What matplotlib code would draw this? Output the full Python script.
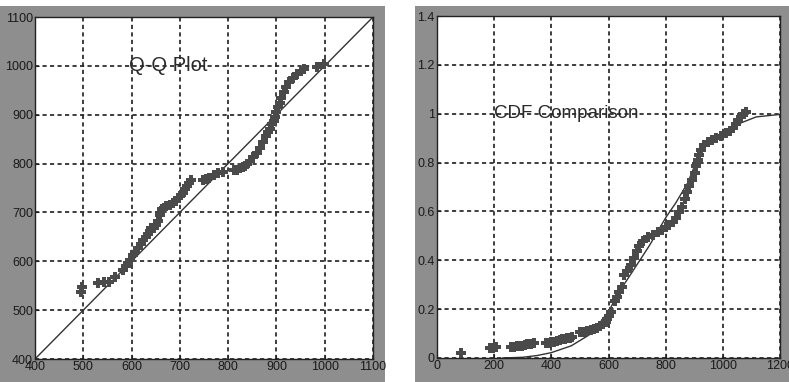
import matplotlib
matplotlib.use("Agg")
import matplotlib.pyplot as plt
from matplotlib.patches import Rectangle

plt.rcParams['font.family'] = ['Liberation Sans Narrow', 'Liberation Sans', 'DejaVu Sans']

# Q-Q plot data (sample quantiles vs. theoretical quantiles)
qq_x = [495, 497, 531, 543, 553, 565,
        583, 588, 593, 597, 603, 608, 614, 619, 624, 629, 634, 638, 641, 646,
        650, 655, 658, 662, 667, 672, 679, 686, 692, 697, 702, 707, 711, 714,
        719, 724,
        748, 755, 760, 770, 779, 790,
        812, 818, 824, 830, 835, 840, 846, 852, 859, 866, 873, 879, 883, 886,
        890, 894, 897, 900, 903, 907, 910, 915, 920, 927, 934, 942, 951, 958,
        985, 999]
qq_y = [537, 548, 556, 557, 558, 568,
        583, 590, 596, 603, 612, 620, 628, 636, 644, 650, 656, 662, 668, 668,
        675, 682, 695, 706, 709, 713, 716, 719, 724, 730, 735, 740, 747, 754,
        760, 767,
        766, 768, 771, 776, 780, 782,
        786, 787, 790, 792, 795, 800, 806, 814, 822, 832, 845, 856, 864, 871,
        880, 888, 895, 905, 915, 925, 935, 946, 956, 966, 976, 983, 990, 994,
        997, 1003]
ref_line = [400, 1100]

# CDF comparison: empirical points
cdf_pts_x = [84, 185, 195, 206, 258, 270, 281, 290, 299, 308, 316, 328, 340,
             380, 389, 398, 410, 421, 430, 438, 447, 456, 465, 473,
             502, 514, 526, 538, 549, 560, 572, 581, 590, 596, 602, 608,
             622, 630, 638, 646, 655, 665, 678, 688, 698, 708, 720, 737, 755,
             772, 787, 801, 813, 825, 836, 848, 857, 866, 875, 883, 892, 901,
             907, 912, 918, 924, 935, 947, 962, 977, 995, 1012, 1024, 1035,
             1045, 1053, 1062, 1070, 1082]
cdf_pts_y = [0.019, 0.04, 0.042, 0.044, 0.044, 0.046, 0.048, 0.049, 0.05, 0.054,
             0.057, 0.058, 0.06,
             0.06, 0.062, 0.064, 0.067, 0.071, 0.075, 0.078, 0.079, 0.08, 0.083,
             0.085,
             0.105, 0.108, 0.11, 0.114, 0.119, 0.124, 0.13, 0.138, 0.146, 0.158,
             0.17, 0.19,
             0.235, 0.25, 0.27, 0.29, 0.34, 0.355, 0.38, 0.41, 0.44, 0.46, 0.48,
             0.495, 0.505, 0.515, 0.525, 0.535, 0.545, 0.556, 0.575, 0.596, 0.62,
             0.65, 0.68, 0.704, 0.73, 0.758, 0.785, 0.81, 0.83, 0.852, 0.87,
             0.886, 0.894, 0.9, 0.91, 0.92, 0.93, 0.94, 0.958, 0.973, 0.987, 1.0,
             1.005]
# fitted CDF curve
fit_x = [230, 300, 350, 400, 470, 540, 600, 637, 684, 743, 801, 836, 877, 906,
         930, 959, 1000, 1058, 1117, 1200]
fit_y = [0.0, 0.003, 0.01, 0.022, 0.05, 0.1, 0.19, 0.27, 0.354, 0.46, 0.576,
         0.636, 0.717, 0.80, 0.852, 0.892, 0.919, 0.96, 0.987, 0.997]

fig = plt.figure(figsize=(7.89, 3.82), dpi=100)
fig.patch.set_facecolor('white')

# gray figure panels behind each axes
panel = '#8e8e8e'
fig.add_artist(Rectangle((0, 0), 385 / 789, 376 / 382, transform=fig.transFigure,
                         facecolor=panel, edgecolor='none', zorder=0))
fig.add_artist(Rectangle((415 / 789, 0), 374 / 789, 376 / 382, transform=fig.transFigure,
                         facecolor=panel, edgecolor='none', zorder=0))

ax1 = fig.add_axes([35 / 789, 23 / 382, 338 / 789, 342 / 382])
ax2 = fig.add_axes([437 / 789, 24 / 382, 343 / 789, 342 / 382])

dark = '#333333'
mark = '#4a4a4a'
for ax in (ax1, ax2):
    ax.set_facecolor('white')
    ax.grid(True, color='#1e1e1e', linestyle=(0, (2.5, 2)), linewidth=1.2)
    ax.set_axisbelow(True)
    ax.tick_params(direction='in', length=3, width=0.8, colors='#222222',
                   labelsize=9, pad=1.5, labelcolor='#1a1a1a')
    for s in ax.spines.values():
        s.set_color('#222222')
        s.set_linewidth(1.0)

# Q-Q plot
ax1.plot(ref_line, ref_line, color=dark, linewidth=1.0)
ax1.plot(qq_x, qq_y, linestyle='none', marker='P', markersize=6.5,
         color=mark, markeredgewidth=0)
ax1.set_xlim(400, 1100)
ax1.set_ylim(400, 1100)
ax1.set_xticks(range(400, 1101, 100))
ax1.set_yticks(range(400, 1101, 100))
ax1.text(675, 1000, 'Q-Q Plot', fontsize=14.5, ha='center', va='center',
         color='#2a2a2a', family=['Liberation Sans', 'DejaVu Sans'])

# CDF comparison
ax2.plot(fit_x, fit_y, color=dark, linewidth=1.0)
ax2.plot(cdf_pts_x, cdf_pts_y, linestyle='none', marker='P', markersize=6.5,
         color=mark, markeredgewidth=0)
ax2.set_xlim(0, 1200)
ax2.set_ylim(0, 1.4)
ax2.set_xticks(range(0, 1201, 200))
ax2.set_yticks([0, 0.2, 0.4, 0.6, 0.8, 1.0, 1.2, 1.4])
ax2.set_yticklabels(['0', '0.2', '0.4', '0.6', '0.8', '1', '1.2', '1.4'])
ax2.text(200, 1.0, 'CDF Comparison', fontsize=13.5, ha='left', va='center',
         color='#2a2a2a', family=['Liberation Sans', 'DejaVu Sans'])

fig.savefig('out.png', dpi=100)
